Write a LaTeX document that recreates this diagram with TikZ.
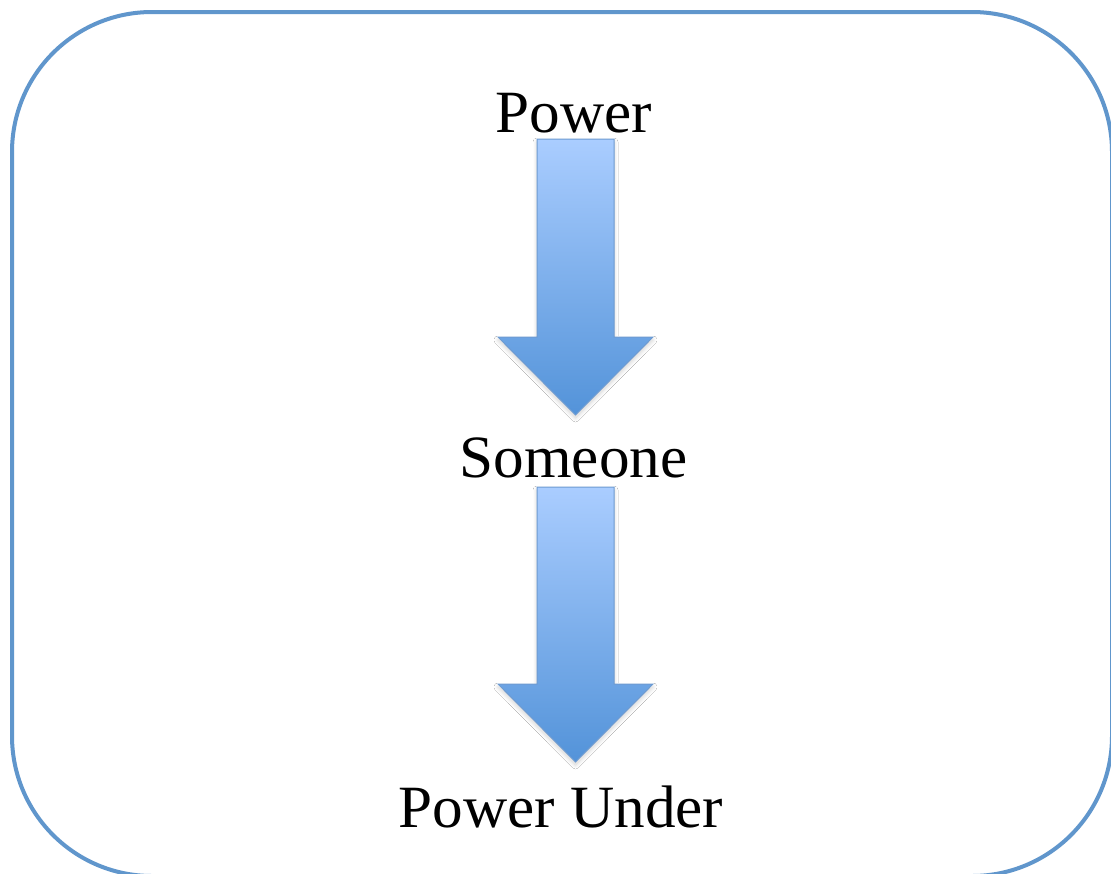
\documentclass[tikz,border=0pt]{standalone}
\usepackage{fontspec}
\setmainfont{Liberation Serif}[FakeStretch=1.02]
\usetikzlibrary{shadows.blur}
\definecolor{framec}{HTML}{6096CC}
\definecolor{arrtop}{HTML}{AACDFF}
\definecolor{arrbot}{HTML}{5393D9}
\definecolor{arredge}{HTML}{6E9BD1}
\tikzset{
  lbl/.style={anchor=base, inner sep=0pt, font=\fontsize{60}{61}\selectfont, text=black},
  blockarrow/.style={draw=arredge, line width=1pt, top color=arrtop, bottom color=arrbot,
    blur shadow={shadow xshift=0pt, shadow yshift=-3pt, shadow blur steps=8, shadow blur radius=4pt, shadow opacity=18}},
  frame/.style={draw=framec, line width=4pt, rounded corners=140pt}
}
\begin{document}
\begin{tikzpicture}[x=1pt,y=-1pt]
\useasboundingbox (0,0) rectangle (1111,873);
\clip (0,0) rectangle (1111,873);
\fill[white] (0,0) rectangle (1111,873);
\draw[frame] (12,12) rectangle (1112,876);
% arrows
\path[blockarrow] (537,139) -- (614,139) -- (614,337) -- (653,337) -- (575.5,415) -- (498,337) -- (537,337) -- cycle;
\path[blockarrow] (537,487) -- (614,487) -- (614,684) -- (653,684) -- (575.5,762) -- (498,684) -- (537,684) -- cycle;
\node[lbl] (power) at (574,132) {Power};
\node[lbl] (someone) at (573.5,477) {Someone};
\node[lbl] (under) at (561,827) {Power Under};
\end{tikzpicture}
\end{document}
